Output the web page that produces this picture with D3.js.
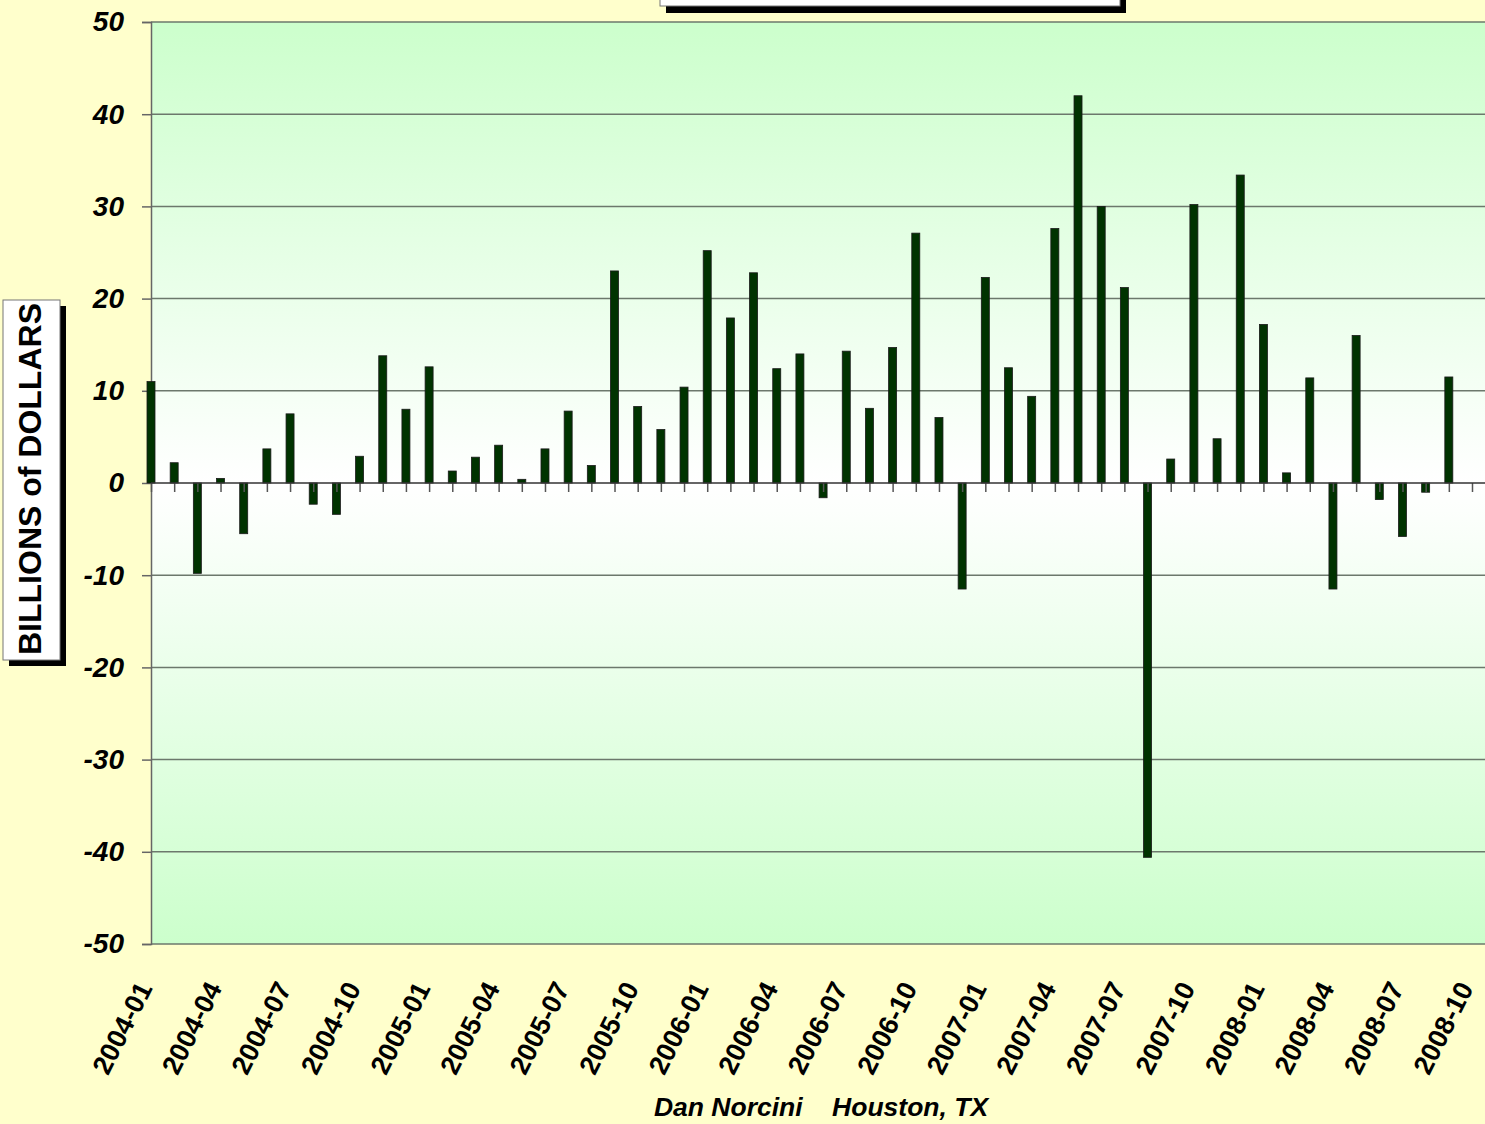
<!DOCTYPE html>
<html lang="en">
<head>
    <meta charset="UTF-8">
    <title>Monthly Flows - Billions of Dollars</title>
    <script src="https://d3js.org/d3.v7.min.js"></script>
    <style>
        body {
            margin: 0;
            background-color: #ffffcc;
        }
        text {
            font-family: Arial, "Liberation Sans", sans-serif;
        }
    </style>
</head>
<body>
    <svg id="chart" width="1485" height="1124"></svg>

    <script>
        // months shown on the category axis
        const months = [
            "2004-01","2004-02","2004-03","2004-04","2004-05","2004-06","2004-07","2004-08","2004-09","2004-10","2004-11","2004-12",
            "2005-01","2005-02","2005-03","2005-04","2005-05","2005-06","2005-07","2005-08","2005-09","2005-10","2005-11","2005-12",
            "2006-01","2006-02","2006-03","2006-04","2006-05","2006-06","2006-07","2006-08","2006-09","2006-10","2006-11","2006-12",
            "2007-01","2007-02","2007-03","2007-04","2007-05","2007-06","2007-07","2007-08","2007-09","2007-10","2007-11","2007-12",
            "2008-01","2008-02","2008-03","2008-04","2008-05","2008-06","2008-07","2008-08","2008-09","2008-10"
        ];

        // billions of dollars (2008-10 has no bar)
        const values = [
            11.0, 2.2, -9.8, 0.5, -5.5, 3.7, 7.5, -2.3, -3.4, 2.9, 13.8, 8.0,
            12.6, 1.3, 2.8, 4.1, 0.4, 3.7, 7.8, 1.9, 23.0, 8.3, 5.8, 10.4,
            25.2, 17.9, 22.8, 12.4, 14.0, -1.6, 14.3, 8.1, 14.7, 27.1, 7.1, -11.5,
            22.3, 12.5, 9.4, 27.6, 42.0, 30.0, 21.2, -40.6, 2.6, 30.2, 4.8, 33.4,
            17.2, 1.1, 11.4, -11.5, 16.0, -1.8, -5.8, -1.0, 11.5, null
        ];

        // labelled months (every quarter)
        const tickLabels = months.filter((m, i) => i % 3 === 0);
        const yTicks = [50, 40, 30, 20, 10, 0, -10, -20, -30, -40, -50];

        const svg = d3.select("#chart");
        const plot = { left: 151, right: 1500, top: 22, bottom: 944 };
        const lastX = 1472;

        const x = d3.scalePoint()
            .domain(months)
            .range([plot.left, lastX]);

        const y = d3.scaleLinear()
            .domain([-50, 50])
            .range([plot.bottom, plot.top]);

        // plot background gradient: green - white at zero - green
        const defs = svg.append("defs");
        const grad = defs.append("linearGradient")
            .attr("id", "plotBg")
            .attr("x1", 0).attr("y1", 0).attr("x2", 0).attr("y2", 1);
        grad.append("stop").attr("offset", "0%").attr("stop-color", "#ccffcc");
        grad.append("stop").attr("offset", "50%").attr("stop-color", "#ffffff");
        grad.append("stop").attr("offset", "100%").attr("stop-color", "#ccffcc");

        svg.append("rect")
            .attr("x", plot.left)
            .attr("y", plot.top)
            .attr("width", plot.right - plot.left)
            .attr("height", plot.bottom - plot.top)
            .attr("fill", "url(#plotBg)");

        // horizontal gridlines
        svg.append("g")
            .selectAll("line")
            .data(yTicks.filter(d => d !== 0))
            .join("line")
            .attr("x1", plot.left)
            .attr("x2", plot.right)
            .attr("y1", d => y(d))
            .attr("y2", d => y(d))
            .attr("stroke", "#6c786c")
            .attr("stroke-width", 1.5);

        // y axis (plain hyphen for negatives, like the original)
        const yAxis = svg.append("g")
            .attr("transform", `translate(${plot.left},0)`)
            .call(d3.axisLeft(y).tickValues(yTicks).tickSize(9).tickPadding(18).tickFormat(d => String(d)));
        yAxis.select(".domain").attr("stroke", "#666").attr("stroke-width", 1.5);
        yAxis.selectAll(".tick line").attr("stroke", "#666").attr("stroke-width", 1.5);
        yAxis.selectAll(".tick text")
            .attr("fill", "#000")
            .style("font-size", "28px")
            .style("font-weight", "bold")
            .style("font-style", "italic");

        // bars
        const barW = 8;
        svg.append("g")
            .selectAll("rect")
            .data(months.map((m, i) => ({ month: m, value: values[i] })).filter(d => d.value !== null))
            .join("rect")
            .attr("x", d => x(d.month) - barW / 2)
            .attr("y", d => y(Math.max(0, d.value)))
            .attr("width", barW)
            .attr("height", d => Math.abs(y(d.value) - y(0)))
            .attr("fill", "#003300")
            .attr("stroke", "#1a1a1a")
            .attr("stroke-width", 0.8);

        // zero axis with month ticks hanging below
        const xAxis = svg.append("g")
            .attr("transform", `translate(0,${y(0)})`)
            .call(d3.axisBottom(x).tickSize(9).tickFormat(""));
        xAxis.select(".domain").remove();
        xAxis.selectAll(".tick line").attr("stroke", "#555").attr("stroke-width", 1.5);
        svg.append("line")
            .attr("x1", plot.left)
            .attr("x2", plot.right)
            .attr("y1", y(0))
            .attr("y2", y(0))
            .attr("stroke", "#333")
            .attr("stroke-width", 1.5);

        // rotated month labels under the plot
        svg.append("g")
            .selectAll("text")
            .data(tickLabels)
            .join("text")
            .attr("transform", d => `translate(${x(d) + 2},${plot.bottom + 44}) rotate(-63)`)
            .attr("text-anchor", "end")
            .style("font-size", "27px")
            .style("font-weight", "bold")
            .text(d => d);

        // y axis title box
        svg.append("rect")
            .attr("x", 9).attr("y", 306).attr("width", 57).attr("height", 360)
            .attr("fill", "#000");
        svg.append("rect")
            .attr("x", 3).attr("y", 300).attr("width", 57).attr("height", 360)
            .attr("fill", "#fff")
            .attr("stroke", "#777")
            .attr("stroke-width", 1);
        svg.append("text")
            .attr("transform", "translate(41,479) rotate(-90)")
            .attr("text-anchor", "middle")
            .style("font-size", "32px")
            .style("font-weight", "bold")
            .text("BILLIONS of DOLLARS");

        // title box (cut off at the top of the picture)
        svg.append("rect")
            .attr("x", 666).attr("y", -40).attr("width", 460).attr("height", 53)
            .attr("fill", "#000");
        svg.append("rect")
            .attr("x", 660).attr("y", -46).attr("width", 460).attr("height", 52)
            .attr("fill", "#fff")
            .attr("stroke", "#777")
            .attr("stroke-width", 1);

        // footer
        svg.append("text")
            .attr("x", 821)
            .attr("y", 1116)
            .attr("text-anchor", "middle")
            .attr("xml:space", "preserve")
            .style("white-space", "pre")
            .style("font-size", "26.5px")
            .style("font-weight", "bold")
            .style("font-style", "italic")
            .text("Dan Norcini    Houston, TX");
    </script>
</body>
</html>
